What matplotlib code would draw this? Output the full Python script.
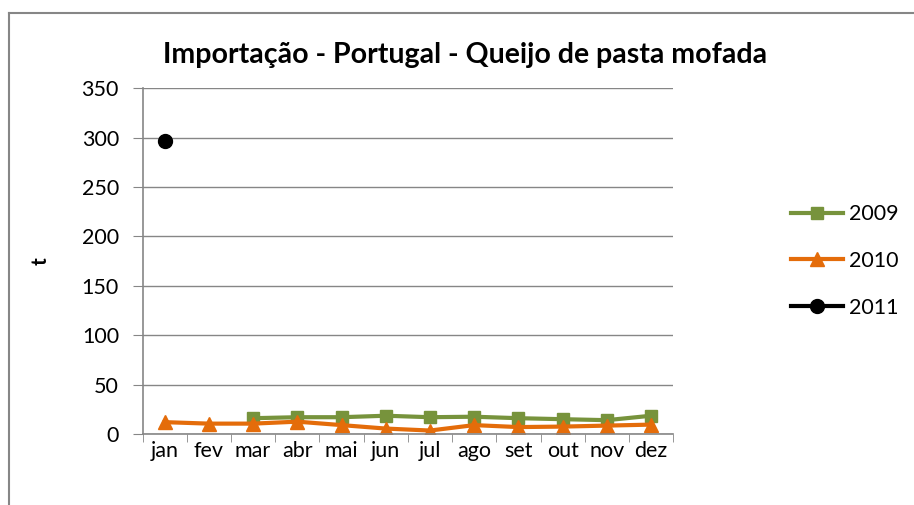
import numpy as np
import matplotlib
matplotlib.use('Agg')
from matplotlib import pyplot as plt
from matplotlib.lines import Line2D

plt.rcParams['font.family'] = ['Lato', 'DejaVu Sans']

meses = ['jan', 'fev', 'mar', 'abr', 'mai', 'jun', 'jul', 'ago', 'set', 'out', 'nov', 'dez']
v2009 = [np.nan, np.nan, 16, 17, 17, 18.5, 17, 17.5, 16, 15, 14, 18.5]
v2010 = [12, 10.5, 10.5, 12.5, 9, 5.5, 3.5, 9, 7, 7.5, 8.5, 9.5]
v2011 = [297] + [np.nan] * 11

fig = plt.figure(figsize=(9.14, 5.05), dpi=100)
ax = fig.add_axes([0.156, 0.1406, 0.5805, 0.6844])

x = np.arange(len(meses))
ax.plot(x, v2009, color='#77933C', lw=3, marker='s', ms=9, label='2009')
ax.plot(x, v2010, color='#E46C0A', lw=3, marker='^', ms=10, label='2010')
ax.plot(x, v2011, color='black', lw=3, marker='o', ms=10, label='2011')

ax.set_xlim(-0.5, 11.5)
ax.set_ylim(0, 350)
ax.set_yticks(range(0, 351, 50))
ax.set_xticks(x)
ax.set_xticklabels(meses)
ax.set_xticks(np.arange(-0.5, 12, 1), minor=True)
ax.tick_params(axis='x', which='major', length=0, pad=5, labelsize=15.5)
ax.tick_params(axis='x', which='minor', length=6, color='#868686', direction='out')
ax.tick_params(axis='y', length=7, color='#868686', direction='out', pad=10, labelsize=15.5)
ax.yaxis.grid(True, color='#868686', lw=1)
ax.set_axisbelow(True)
for s in ['top', 'right']:
    ax.spines[s].set_visible(False)
for s in ['left', 'bottom']:
    ax.spines[s].set_color('#868686')
    ax.spines[s].set_linewidth(1.2)

ax.set_ylabel('t', fontsize=15, fontweight='bold', labelpad=22)
fig.text(465 / 914, 1 - 55 / 505, 'Importação - Portugal - Queijo de pasta mofada',
         ha='center', va='center', fontsize=20.5, fontweight='bold')

fig.legend(loc='center left', bbox_to_anchor=(772 / 914, 1 - 261 / 505), frameon=False,
           fontsize=15.5, handlelength=2.4, labelspacing=1.25, handletextpad=0.3)

# borda do gráfico
fig.add_artist(Line2D([8.5 / 914, 8.5 / 914], [0, 1 - 12.5 / 505], color='#868686', lw=1.5))
fig.add_artist(Line2D([8.5 / 914, 1], [1 - 12.5 / 505, 1 - 12.5 / 505], color='#868686', lw=1.5))

fig.savefig('out.png', dpi=100)
